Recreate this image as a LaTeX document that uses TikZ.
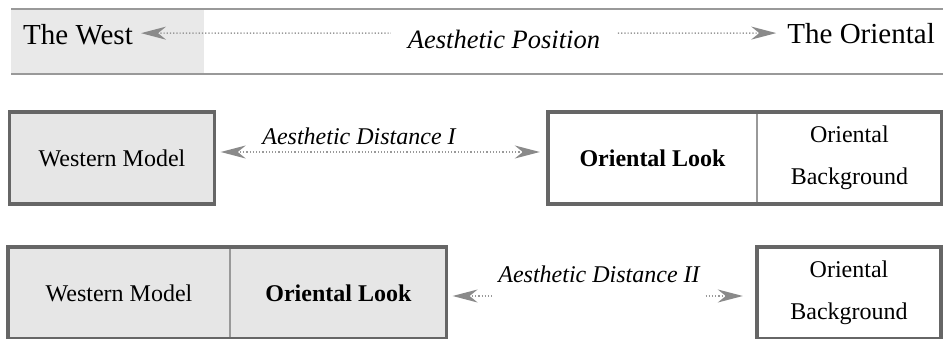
\documentclass[tikz,border=0pt]{standalone}
\usepackage{fontspec}
\setmainfont{Liberation Serif}
\usetikzlibrary{arrows.meta,positioning}

\definecolor{boxgray}{HTML}{E6E6E6}
\definecolor{linegray}{HTML}{999999}
\definecolor{framegray}{HTML}{666666}
\definecolor{tipgray}{HTML}{8A8A8A}

\begin{document}
\begin{tikzpicture}[x=1pt,y=-1pt,auto,node distance=0pt]

      \tikzstyle{cell}=[shape=rectangle,minimum height=92pt,inner sep=0pt,align=center,fill=boxgray,font=\fontsize{24}{42}\selectfont]
      \tikzstyle{frame}=[draw=framegray,line width=3.5pt]
      \tikzstyle{divider}=[draw=linegray,line width=1.5pt]
      \tikzstyle{pole}=[inner sep=0pt,font=\fontsize{29}{35}\selectfont]
      \tikzstyle{gap}=[fill=white,inner ysep=3pt,font=\itshape\fontsize{24}{29}\selectfont]
      \tikzstyle{dotarrow}=[color=linegray,line width=1.6pt,dash pattern=on 1.2pt off 2pt,
        arrows={Stealth[length=25pt,width=13pt,inset=8pt,color=tipgray]-Stealth[length=25pt,width=13pt,inset=8pt,color=tipgray]}]
      % \tikzstyle{pole}=[font=\large]

      \useasboundingbox (0,0) rectangle (943,339);

      % top band
      \fill[boxgray!90] (11,9) rectangle (204,74);
      \draw[linegray,line width=2pt] (11,9) -- (943,9) (11,74) -- (943,74);

      \node[pole,anchor=base west] (west) at (23,45) {The West};
      \node[pole,anchor=base east] (oriental) at (935,44) {The Oriental};
      \path [dotarrow,shorten <=8pt,shorten >=11pt] ([yshift=2pt]west.east) edge ([yshift=1pt]oriental.west);
      \node[gap,anchor=base,inner xsep=17pt,font=\itshape\fontsize{26.5}{32}\selectfont] (pos) at (504,49) {Aesthetic Position};

      % second row
      \node[cell,minimum width=205pt] (wm) at (112,158) {Western Model};
      \draw[frame] (wm.north west) rectangle (wm.south east);

      \node[cell,fill=white,minimum width=209pt,font=\bfseries\fontsize{24}{42}\selectfont] (ol) at (652.5,158) {Oriental Look};
      \node[cell,fill=white,minimum width=184pt,right=0pt of ol] (ob) {Oriental\\Background};
      \draw[divider] (ol.north east) -- (ol.south east);
      \draw[frame] (ol.north west) rectangle (ob.south east);

      \path [dotarrow,shorten <=6pt,shorten >=8pt] ([yshift=6pt]wm.east) edge ([yshift=6pt]ol.west);
      \node[gap,anchor=base,fill=none] (dist1) at (359,145) {Aesthetic Distance I};

      % third row
      \node[cell,minimum width=222pt] (wm2) at (119,293) {Western Model};
      \node[cell,minimum width=216pt,font=\bfseries\fontsize{24}{42}\selectfont,right=0pt of wm2] (ol2) {Oriental Look};
      \draw[divider] (wm2.north east) -- (wm2.south east);
      \draw[frame] (wm2.north west) rectangle (ol2.south east);

      \node[cell,fill=white,minimum width=184pt] (ob2) at (849,293) {Oriental\\Background};
      \draw[frame] (ob2.north west) rectangle (ob2.south east);

      \path [dotarrow,shorten <=6pt,shorten >=14pt] ([yshift=-3pt]ol2.east) edge ([yshift=-3pt]ob2.west);
      \node[gap,anchor=base,inner xsep=5pt,inner ysep=16pt] (dist2) at (599,283) {Aesthetic Distance II};

    \end{tikzpicture}
\end{document}
